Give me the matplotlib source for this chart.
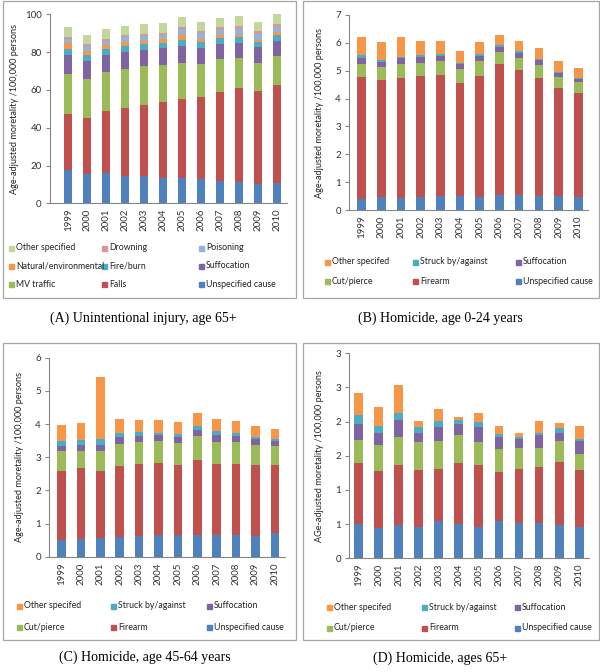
import matplotlib
matplotlib.use("Agg")
import matplotlib.pyplot as plt
from matplotlib.patches import Rectangle

years = [str(y) for y in range(1999, 2011)]

# Panel A: Unintentional injury, age 65+
a_unspecified = [17.6, 15.5, 16.2, 14.6, 14.6, 13.2, 13.2, 12.7, 12.0, 11.5, 10.2, 10.6]
a_falls = [29.5, 29.5, 32.8, 36.0, 37.4, 40.2, 42.0, 43.4, 46.7, 49.3, 49.4, 52.0]
a_mv = [21.3, 20.6, 20.7, 20.5, 20.5, 19.6, 19.2, 17.6, 17.5, 15.9, 14.8, 15.4]
a_suffocation = [10.1, 9.7, 8.8, 9.1, 8.6, 9.0, 8.8, 8.7, 8.1, 8.3, 8.1, 8.1]
a_fire = [3.2, 3.4, 3.2, 3.0, 3.0, 3.0, 3.2, 3.1, 3.2, 2.8, 2.7, 2.8]
a_natural = [3.1, 2.1, 1.9, 2.2, 1.8, 1.8, 2.8, 1.4, 1.4, 1.1, 1.2, 1.6]
a_poisoning = [2.3, 2.3, 2.1, 2.4, 2.6, 2.3, 2.9, 3.0, 2.8, 3.2, 3.4, 3.0]
a_drowning = [0.7, 1.0, 1.1, 1.1, 1.1, 1.2, 1.0, 1.3, 1.4, 1.7, 1.4, 1.4]
a_other = [5.7, 5.1, 5.4, 5.1, 5.1, 4.9, 5.3, 4.9, 5.1, 5.3, 4.9, 5.1]

# Panel B: Homicide, age 0-24
b_unspecified = [0.39, 0.48, 0.44, 0.47, 0.49, 0.51, 0.48, 0.53, 0.53, 0.50, 0.50, 0.48]
b_firearm = [4.40, 4.19, 4.31, 4.34, 4.37, 4.04, 4.33, 4.70, 4.50, 4.23, 3.87, 3.71]
b_cut = [0.46, 0.45, 0.50, 0.47, 0.49, 0.50, 0.54, 0.45, 0.43, 0.47, 0.40, 0.41]
b_suffocation = [0.21, 0.21, 0.19, 0.22, 0.18, 0.19, 0.18, 0.18, 0.19, 0.18, 0.16, 0.10]
b_struck = [0.11, 0.07, 0.05, 0.06, 0.06, 0.05, 0.06, 0.08, 0.04, 0.03, 0.04, 0.04]
b_other = [0.64, 0.62, 0.72, 0.49, 0.49, 0.43, 0.43, 0.34, 0.39, 0.39, 0.38, 0.37]

# Panel C: Homicide, age 45-64
c_unspecified = [0.50, 0.53, 0.57, 0.58, 0.61, 0.65, 0.66, 0.66, 0.66, 0.65, 0.63, 0.71]
c_firearm = [2.09, 2.14, 2.01, 2.15, 2.18, 2.18, 2.10, 2.25, 2.14, 2.15, 2.14, 2.06]
c_cut = [0.59, 0.51, 0.60, 0.67, 0.67, 0.66, 0.67, 0.73, 0.67, 0.67, 0.61, 0.57]
c_suffocation = [0.16, 0.18, 0.20, 0.22, 0.18, 0.19, 0.19, 0.19, 0.21, 0.17, 0.18, 0.15]
c_struck = [0.15, 0.17, 0.17, 0.11, 0.12, 0.05, 0.08, 0.12, 0.10, 0.08, 0.06, 0.07]
c_other = [0.48, 0.49, 1.86, 0.42, 0.35, 0.38, 0.36, 0.39, 0.37, 0.36, 0.32, 0.30]

# Panel D: Homicide, ages 65+
d_unspecified = [0.50, 0.44, 0.49, 0.46, 0.54, 0.50, 0.46, 0.55, 0.52, 0.52, 0.49, 0.46]
d_firearm = [0.90, 0.84, 0.87, 0.83, 0.76, 0.89, 0.90, 0.71, 0.78, 0.82, 0.92, 0.83]
d_cut = [0.33, 0.38, 0.41, 0.41, 0.41, 0.42, 0.34, 0.34, 0.32, 0.28, 0.30, 0.24]
d_suffocation = [0.24, 0.18, 0.25, 0.14, 0.21, 0.16, 0.22, 0.17, 0.13, 0.18, 0.13, 0.18]
d_struck = [0.13, 0.10, 0.11, 0.08, 0.09, 0.06, 0.07, 0.05, 0.03, 0.03, 0.06, 0.04]
d_other = [0.32, 0.28, 0.40, 0.09, 0.17, 0.04, 0.14, 0.11, 0.06, 0.18, 0.08, 0.19]

labels_a = ["Unspecified cause", "Falls", "MV traffic", "Suffocation", "Fire/burn",
            "Natural/environmental", "Poisoning", "Drowning", "Other specified"]
labels_h = ["Unspecified cause", "Firearm", "Cut/pierce", "Suffocation",
            "Struck by/against", "Other specifed"]

C_BLUE = "#4F81BD"; C_RED = "#C0504D"; C_GREEN = "#9BBB59"; C_PURPLE = "#8064A2"
C_TEAL = "#4BACC6"; C_ORANGE = "#F79646"; C_LBLUE = "#95B3D7"; C_PINK = "#D99694"
C_LGREEN = "#C3D69B"
colors_a = [C_BLUE, C_RED, C_GREEN, C_PURPLE, C_TEAL, C_ORANGE, C_LBLUE, C_PINK, C_LGREEN]
colors_h = [C_BLUE, C_RED, C_GREEN, C_PURPLE, C_TEAL, C_ORANGE]

plt.rcParams['font.family'] = ['Lato', 'DejaVu Sans']

W, H = 600, 672
fig = plt.figure(figsize=(6, 6.72), dpi=100)
fig.patch.set_facecolor("white")

def fx(px):
    return px / W

def fy(py):
    return 1 - py / H

def add_frame(x0, y0, x1, y1):
    fig.patches.append(Rectangle((fx(x0), fy(y1)), fx(x1 - x0), (y1 - y0) / H,
                                 transform=fig.transFigure, fill=False,
                                 edgecolor="#A6A6A6", lw=0.9))

GRAY = "#868686"
YLABEL = "Age-adjusted moretality /100,000 persons"

def panel(L, R, T, B, xmin, series, colors, ymax, yticks, yticklabels, ylabel, ylabel_x):
    ax = fig.add_axes([fx(L), fy(B), fx(R - L), (B - T) / H])
    x = list(range(len(years)))
    bottom = [0.0] * len(years)
    for vals, col in zip(series, colors):
        ax.bar(x, vals, width=0.44, bottom=bottom, color=col, edgecolor="none")
        bottom = [b + v for b, v in zip(bottom, vals)]
    ax.set_xlim(xmin, 11.5)
    ax.set_ylim(0, ymax)
    ax.set_yticks(yticks)
    ax.set_yticklabels(yticklabels)
    ax.set_xticks(x)
    ax.set_xticklabels(years, rotation=90)
    for s in ["top", "right"]:
        ax.spines[s].set_visible(False)
    for s in ["left", "bottom"]:
        ax.spines[s].set_color(GRAY)
        ax.spines[s].set_linewidth(0.8)
    ax.tick_params(axis="y", length=3, color=GRAY, labelsize=7, pad=3, labelcolor="#333333")
    ax.tick_params(axis="x", length=0, labelsize=7, pad=4, labelcolor="#333333")
    fig.text(fx(ylabel_x), fy((T + B) / 2), ylabel, rotation=90, ha="center", va="center",
             fontsize=6.6, color="#222222")
    return ax

def legend(items, colors, rows_y, cols_x):
    # items/colors given in reversed series order, filled row-wise
    n = len(cols_x)
    for i, (lab, col) in enumerate(zip(items, colors)):
        r, c = divmod(i, n)
        xs, ys = cols_x[c], rows_y[r]
        fig.patches.append(Rectangle((fx(xs), fy(ys + 2.5)), fx(5), 5 / H,
                                     transform=fig.transFigure, color=col))
        fig.text(fx(xs + 7), fy(ys), lab, ha="left", va="center", fontsize=6.3,
                 color="#222222")

# Frames
add_frame(3, 1, 296, 298)
add_frame(303, 1, 599, 298)
add_frame(3, 343, 296, 640)
add_frame(303, 343, 599, 640)

# Panel A
series_a = [a_unspecified, a_falls, a_mv, a_suffocation, a_fire, a_natural,
            a_poisoning, a_drowning, a_other]
panel(50, 286.8, 14.3, 203.3, -0.96, series_a, colors_a, 100,
      [0, 20, 40, 60, 80, 100], ["0", "20", "40", "60", "80", "100"], YLABEL, 15)
legend(labels_a[::-1], colors_a[::-1], [248, 266, 284], [9, 102, 199])
fig.text(fx(143), fy(318), "(A) Unintentional injury, age 65+", ha="center", va="center",
         fontsize=10, family="Liberation Serif")

# Panel B
series_b = [b_unspecified, b_firearm, b_cut, b_suffocation, b_struck, b_other]
panel(349.3, 588.1, 15, 210, -0.62, series_b, colors_h, 7,
      list(range(8)), [str(i) for i in range(8)], YLABEL, 320)
legend(labels_h[::-1], colors_h[::-1], [262, 281], [325, 413, 516])
fig.text(fx(440), fy(318), "(B) Homicide, age 0-24 years", ha="center", va="center",
         fontsize=10, family="Liberation Serif")

# Panel C
series_c = [c_unspecified, c_firearm, c_cut, c_suffocation, c_struck, c_other]
panel(49.3, 284.5, 357.7, 556.7, -0.63, series_c, colors_h, 6,
      list(range(7)), [str(i) for i in range(7)], YLABEL, 20)
legend(labels_h[::-1], colors_h[::-1], [606, 627], [17, 111, 207])
fig.text(fx(145), fy(657), "(C) Homicide, age 45-64 years", ha="center", va="center",
         fontsize=10, family="Liberation Serif")

# Panel D
series_d = [d_unspecified, d_firearm, d_cut, d_suffocation, d_struck, d_other]
panel(349.3, 589.2, 353.3, 558.3, -0.46, series_d, colors_h, 3,
      [0, 0.5, 1, 1.5, 2, 2.5, 3], ["0", "1", "1", "2", "2", "3", "3"],
      "AGe-adjusted moretality /100,000 persons", 320)
legend(labels_h[::-1], colors_h[::-1], [607, 628], [327, 422, 515])
fig.text(fx(440), fy(658), "(D) Homicide, ages 65+", ha="center", va="center",
         fontsize=10, family="Liberation Serif")

fig.savefig("out.png", dpi=100, facecolor="white")
